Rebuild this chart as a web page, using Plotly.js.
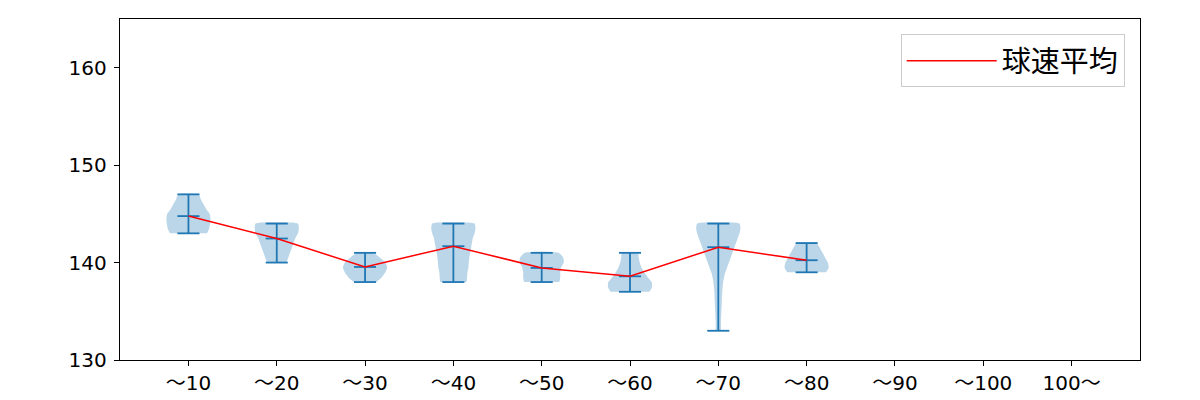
<!DOCTYPE html>
<html>
<head>
<meta charset="utf-8">
<script src="https://cdn.plot.ly/plotly-3.0.1.min.js"></script>
<style>
  html, body { margin: 0; padding: 0; background: #fff; }
  #chart { width: 1200px; height: 400px; }
</style>
</head>
<body>
<div id="chart"></div>
<script>
// Category labels (x positions 1..11)
const categories = ["～10", "～20", "～30", "～40", "～50", "～60", "～70", "～80", "～90", "～100", "100～"];

// Per-violin statistics (first 8 categories have data)
const minSpeed  = [143, 140, 138, 138, 138, 137, 133, 139];
const maxSpeed  = [147, 144, 141, 144, 141, 141, 144, 142];
const meanSpeed = [144.77, 142.47, 139.55, 141.68, 139.45, 138.59, 141.58, 140.24];

// Violin outline: speed levels and half-widths (in category units)
const violinLevels = [
  [143, 143.5, 144, 144.5, 145, 145.5, 146, 146.5, 147],
  [140, 140.5, 141, 141.5, 142, 142.5, 143, 143.5, 144],
  [138, 138.5, 139, 139.5, 140, 140.5, 141],
  [138, 138.5, 139, 139.5, 140, 140.5, 141, 141.5, 142, 142.5, 143, 143.5, 144],
  [138, 138.5, 139, 139.5, 140, 140.5, 141],
  [137, 137.5, 138, 138.5, 139, 139.5, 140, 140.5, 141],
  [133, 134, 135, 136, 137, 138, 138.5, 139, 139.5, 140, 140.5, 141, 141.5, 142, 142.5, 143, 143.5, 144],
  [139, 139.5, 140, 140.5, 141, 141.5, 142]
];
const violinHalfWidths = [
  [0.21, 0.235, 0.245, 0.25, 0.24, 0.2, 0.17, 0.14, 0.115],
  [0.11, 0.13, 0.15, 0.17, 0.19, 0.21, 0.24, 0.25, 0.24],
  [0.13, 0.19, 0.23, 0.25, 0.23, 0.17, 0.09],
  [0.15, 0.155, 0.16, 0.17, 0.175, 0.18, 0.19, 0.2, 0.21, 0.22, 0.24, 0.25, 0.24],
  [0.2, 0.21, 0.21, 0.22, 0.25, 0.245, 0.19],
  [0.22, 0.25, 0.245, 0.2, 0.16, 0.13, 0.11, 0.1, 0.09],
  [0.03, 0.03, 0.035, 0.04, 0.045, 0.055, 0.065, 0.08, 0.1, 0.12, 0.14, 0.16, 0.18, 0.2, 0.22, 0.24, 0.25, 0.24],
  [0.22, 0.25, 0.24, 0.21, 0.18, 0.15, 0.11]
];

const legendName = "球速平均";
const yTicks = [130, 140, 150, 160];

const BLUE = "#1f77b4";
const CAP = 0.125;
const traces = [];

// Violin bodies
violinLevels.forEach((lv, i) => {
  const pos = i + 1;
  const hw = violinHalfWidths[i];
  const xs = [], ys = [];
  for (let k = 0; k < lv.length; k++) { xs.push(pos + hw[k]); ys.push(lv[k]); }
  for (let k = lv.length - 1; k >= 0; k--) { xs.push(pos - hw[k]); ys.push(lv[k]); }
  traces.push({
    x: xs, y: ys, type: "scatter", mode: "lines", fill: "toself",
    fillcolor: "rgba(31,119,180,0.3)", line: {width: 0, shape: "spline", smoothing: 0.6},
    showlegend: false, hoverinfo: "skip"
  });
});

// Bars, caps, mean ticks
const lx = [], ly = [];
minSpeed.forEach((mn, i) => {
  const pos = i + 1, mx = maxSpeed[i], me = meanSpeed[i];
  lx.push(pos, pos, null); ly.push(mn, mx, null);
  lx.push(pos - CAP, pos + CAP, null); ly.push(mx, mx, null);
  lx.push(pos - CAP, pos + CAP, null); ly.push(mn, mn, null);
  lx.push(pos - CAP, pos + CAP, null); ly.push(me, me, null);
});
traces.push({
  x: lx, y: ly, type: "scatter", mode: "lines",
  line: {color: BLUE, width: 1.8}, showlegend: false, hoverinfo: "skip"
});

// Mean line
traces.push({
  x: meanSpeed.map((_, i) => i + 1), y: meanSpeed, type: "scatter", mode: "lines",
  name: legendName, line: {color: "red", width: 1.5}
});

const cjk = "'Noto Sans CJK JP', sans-serif";
const tickFont = "'DejaVu Sans', 'Noto Sans CJK JP', sans-serif";
const layout = {
  width: 1200, height: 400,
  margin: {l: 120, r: 60, t: 19, b: 40},
  paper_bgcolor: "#fff", plot_bgcolor: "#fff",
  font: {family: tickFont, size: 19, color: "#000"},
  showlegend: true,
  legend: {
    x: 0.985, y: 0.955, xanchor: "right", yanchor: "top",
    bordercolor: "#cccccc", borderwidth: 1, bgcolor: "rgba(255,255,255,0.8)",
    font: {family: cjk, size: 29, color: "#000"}, itemwidth: 90
  },
  xaxis: {
    range: [0.225, 11.775], tickmode: "array",
    tickvals: categories.map((_, i) => i + 1), ticktext: categories,
    showgrid: false, zeroline: false, showline: true, mirror: true,
    linecolor: "#000", linewidth: 1.2, ticks: "outside", ticklen: 5, tickcolor: "#000",
    tickfont: {family: tickFont, size: 20, color: "#000"}
  },
  yaxis: {
    range: [130, 165], tickmode: "array", tickvals: yTicks,
    showgrid: false, zeroline: false, showline: true, mirror: true,
    linecolor: "#000", linewidth: 1.2, ticks: "outside", ticklen: 5, tickcolor: "#000",
    ticklabelstandoff: 3,
    tickfont: {family: tickFont, size: 20, color: "#000"}
  }
};

Plotly.newPlot("chart", traces, layout, {displayModeBar: false, staticPlot: true});
</script>
</body>
</html>
